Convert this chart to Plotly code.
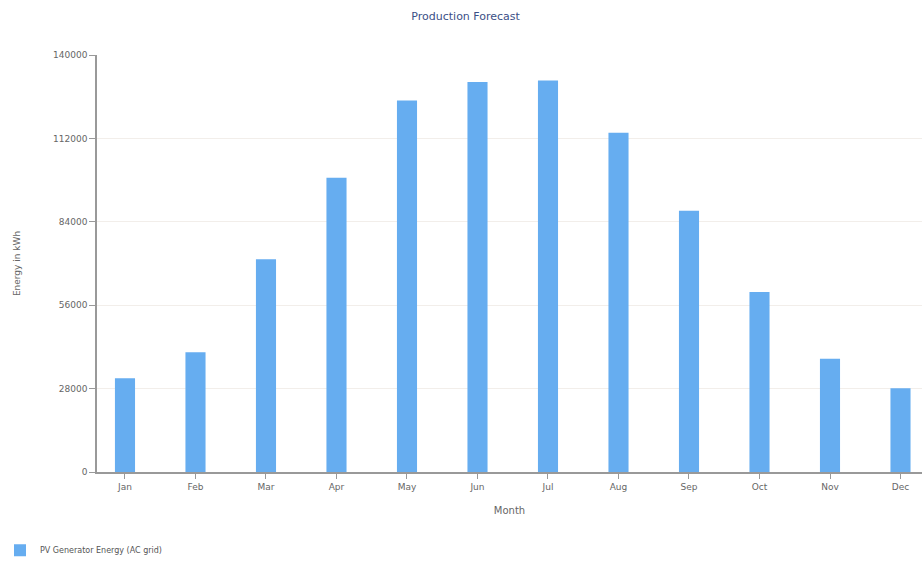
import plotly.graph_objects as go

months = ["Jan", "Feb", "Mar", "Apr", "May", "Jun", "Jul", "Aug", "Sep", "Oct", "Nov", "Dec"]
energy_kwh = [31500, 40200, 71400, 98800, 124700, 130900, 131400, 113900, 87700, 60400, 38000, 28100]
y_ticks = [0, 28000, 56000, 84000, 112000, 140000]
series_name = "PV Generator Energy (AC grid)"

FONT = "DejaVu Sans, Verdana, sans-serif"

fig = go.Figure()
fig.add_trace(go.Bar(
    x=months, y=energy_kwh, name=series_name,
    marker=dict(color="#66adf0", line=dict(width=0)),
    width=0.285,
))

fig.update_layout(
    width=922, height=562,
    paper_bgcolor="white", plot_bgcolor="white",
    margin=dict(l=97, r=0, t=55, b=90),
    title=dict(text="Production Forecast", x=0.505, xanchor="center", y=0.972, yanchor="middle",
               font=dict(family=FONT, size=11, color="#3b4f86")),
    showlegend=True,
    legend=dict(orientation="h", xref="container", yref="container",
                x=0.0, y=0.021, xanchor="left", yanchor="middle",
                font=dict(family=FONT, size=8, color="#555555"), itemwidth=30),
    font=dict(family=FONT, size=9, color="#666666"),
)
fig.update_xaxes(
    type="category", range=[-0.397, 11.305],
    showline=True, linecolor="#999999", linewidth=1.5,
    ticks="outside", ticklen=5, tickcolor="#999999",
    showgrid=False,
    tickfont=dict(family=FONT, size=9, color="#666666"),
    title=dict(text="Month", font=dict(family=FONT, size=10, color="#666666"), standoff=16),
)
fig.update_yaxes(
    range=[0, 140000], tickvals=y_ticks, ticktext=[str(v) for v in y_ticks],
    showline=True, linecolor="#999999", linewidth=1.5,
    ticks="outside", ticklen=6, tickcolor="#999999",
    showgrid=True, gridcolor="#f2eeea", gridwidth=1,
    zeroline=False,
    tickfont=dict(family=FONT, size=9, color="#666666"),
    title=dict(text="Energy in kWh", font=dict(family=FONT, size=9, color="#666666"), standoff=31),
)

fig.write_html("out.html")
